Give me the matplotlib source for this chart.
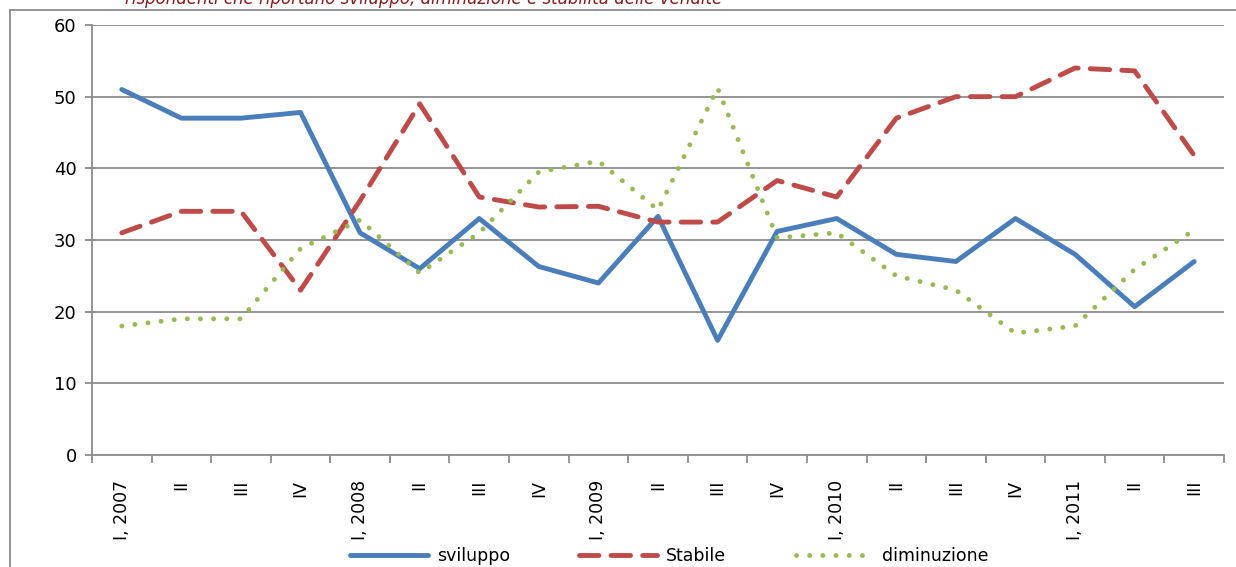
import matplotlib.pyplot as plt
from matplotlib.lines import Line2D

# Quarters
labels = ["I, 2007", "II", "III", "IV",
          "I, 2008", "II", "III", "IV",
          "I, 2009", "II", "III", "IV",
          "I, 2010", "II", "III", "IV",
          "I, 2011", "II", "III"]

sviluppo = [51, 47, 47, 47.8, 31, 26, 33, 26.3, 24, 33.3, 16, 31.2, 33, 28, 27, 33, 28, 20.7, 27]
stabile = [31, 34, 34, 23, 35.5, 49, 36, 34.6, 34.7, 32.5, 32.5, 38.3, 36, 47, 50, 50, 54, 53.6, 41.8]
diminuzione = [18, 19, 19, 28.8, 32.8, 25.4, 31, 39.5, 41, 34.2, 51.2, 30.3, 31, 25, 23, 17, 18, 25.9, 31.4]

title = "rispondenti che riportano sviluppo, diminuzione e stabilità delle vendite"

fig = plt.figure(figsize=(12.36, 5.67), dpi=100)
W, H = 1236, 567
ax = fig.add_axes([92 / W, 1 - 455 / H, (1224 - 92) / W, (455 - 25) / H])

x = range(len(labels))
ax.plot(x, sviluppo, color="#4A7EBB", lw=3.5, label="sviluppo", solid_capstyle="round")
ax.plot(x, stabile, color="#BE4B48", lw=3.5, label="Stabile",
        dashes=(4, 2.5), dash_capstyle="round")
ax.plot(x, diminuzione, color="#98B954", lw=3.5, label="diminuzione",
        linestyle=(0, (0.01, 2.7)), dash_capstyle="round")

ax.set_xlim(-0.5, len(labels) - 0.5)
ax.set_ylim(0, 60)
ax.set_yticks(range(0, 61, 10))
ax.yaxis.grid(True, color="#8C8C8C", lw=1.3)
ax.set_axisbelow(True)

ax.set_xticks(list(x))
ax.set_xticklabels(labels, rotation=90, fontsize=12.5, va="top")
ax.set_xticks([i - 0.5 for i in range(len(labels) + 1)], minor=True)
ax.tick_params(axis="x", which="major", length=0, pad=18)
ax.tick_params(axis="x", which="minor", length=6, color="#8C8C8C", width=1.3)
ax.tick_params(axis="y", length=5, color="#8C8C8C", width=1.3, labelsize=13, pad=6)

for s in ["top", "right"]:
    ax.spines[s].set_visible(False)
for s in ["left", "bottom"]:
    ax.spines[s].set_color("#8C8C8C")
    ax.spines[s].set_linewidth(1.3)

leg = ax.legend(loc="center", bbox_to_anchor=(0.51, -0.235), ncol=3, frameon=False,
                fontsize=12.5, handlelength=4.5, columnspacing=4, handletextpad=0.5,
                borderpad=0)

# outer chart frame
fig.add_artist(Line2D([10 / W, 10 / W], [0, 1 - 10 / H], color="#8C8C8C", lw=1.3))
fig.add_artist(Line2D([10 / W, 1], [1 - 10 / H, 1 - 10 / H], color="#8C8C8C", lw=1.3))

fig.text(125 / W, 1 - 4 / H, title, color="#8B1A1A", style="italic", fontsize=12,
         va="baseline", ha="left")

fig.savefig("out.png", dpi=100)
